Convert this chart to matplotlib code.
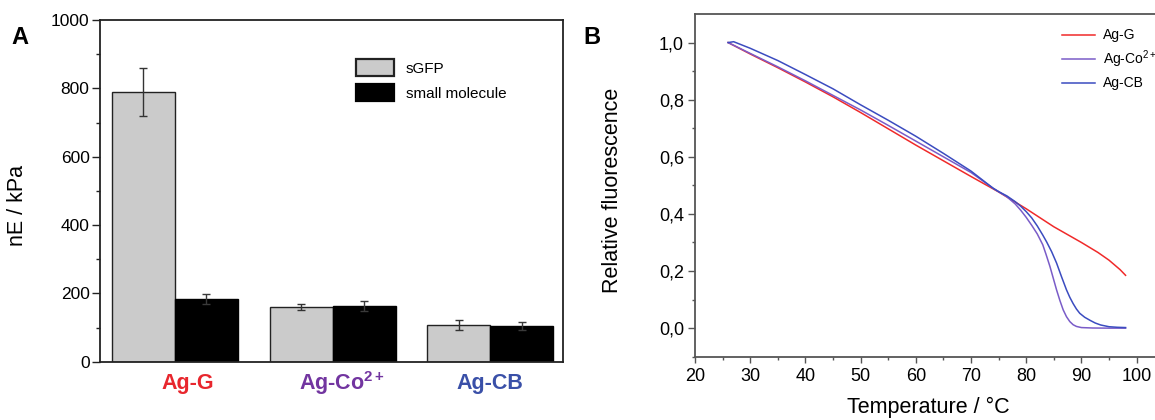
import matplotlib
matplotlib.use("Agg")
import matplotlib.pyplot as plt
import numpy as np
from matplotlib.ticker import MultipleLocator, FixedLocator

plt.rcParams['font.family'] = ['Liberation Sans', 'DejaVu Sans']
plt.rcParams['mathtext.fontset'] = 'custom'
plt.rcParams['mathtext.rm'] = 'Liberation Sans'
plt.rcParams['mathtext.bf'] = 'Liberation Sans:bold'

# ---------------- Data: panel A ----------------
groups = ['Ag-G', r'Ag-Co$^{\mathbf{2+}}$', 'Ag-CB']
group_colors = ['#e8262d', '#7235a0', '#3a50a8']
sgfp = [790, 160, 108]
sgfp_err = [70, 8, 14]
small_mol = [184, 163, 105]
small_mol_err = [14, 15, 12]
series_labels = ['sGFP', 'small molecule']

# ---------------- Data: panel B ----------------
temp_g = [26, 30, 35, 40, 45, 50, 55, 60, 65, 70, 75, 80, 85, 90, 93, 95, 97, 98]
fluo_g = [1.0, 0.96, 0.912, 0.862, 0.81, 0.755, 0.698, 0.641, 0.586, 0.531,
          0.477, 0.418, 0.355, 0.300, 0.265, 0.238, 0.205, 0.185]

temp_co = [26, 30, 35, 40, 45, 50, 55, 60, 65, 70, 74, 75, 76.5, 78, 79, 80, 81,
           82, 83, 83.6, 84.3, 84.9, 85.5, 86.1, 86.7, 87.3, 87.9, 88.5, 89.1,
           90, 92, 95, 98]
fluo_co = [1.0, 0.962, 0.915, 0.866, 0.815, 0.764, 0.71, 0.655, 0.6, 0.545,
           0.49, 0.478, 0.46, 0.435, 0.413, 0.388, 0.36, 0.33, 0.292, 0.258,
           0.216, 0.175, 0.134, 0.097, 0.064, 0.04, 0.023, 0.012, 0.006,
           0.002, 0.0005, 0.0, 0.0]

temp_cb = [26, 27, 30, 35, 40, 45, 50, 55, 60, 62, 65, 70, 74, 75, 76.5, 78, 79,
           80, 81, 82, 83, 83.7, 84.6, 85.5, 86.4, 87.3, 87.9, 88.5, 89.1,
           89.7, 90.6, 91.6, 92.5, 93.5, 95, 96.5, 98]
fluo_cb = [1.0, 1.003, 0.98, 0.937, 0.888, 0.838, 0.782, 0.728, 0.672, 0.648,
           0.612, 0.55, 0.49, 0.478, 0.463, 0.443, 0.427, 0.408, 0.386, 0.358,
           0.326, 0.302, 0.268, 0.228, 0.18, 0.134, 0.108, 0.086, 0.067,
           0.052, 0.038, 0.027, 0.018, 0.011, 0.005, 0.003, 0.002]

line_labels = ['Ag-G', r'Ag-Co$^{2+}$', 'Ag-CB']
line_colors = ['#f02a2a', '#7a5cc8', '#3b4cc0']

W, H = 1155, 420
fig = plt.figure(figsize=(W / 100, H / 100), dpi=100)

# ---------------- Panel A ----------------
axA = fig.add_axes([100 / W, 1 - 361.7 / H, 463.3 / W, 341.7 / H])
x = np.arange(len(groups))
bw = 0.4
axA.bar(x - bw / 2, sgfp, width=bw, color='#cbcbcb', edgecolor='#222222',
        linewidth=1.0, label=series_labels[0], zorder=2)
axA.bar(x + bw / 2, small_mol, width=bw, color='#000000', edgecolor='#000000',
        linewidth=1.0, label=series_labels[1], zorder=2)
axA.errorbar(x - bw / 2, sgfp, yerr=sgfp_err, fmt='none', ecolor='#333333',
             elinewidth=1.0, capsize=2.6, capthick=1.0, zorder=3)
axA.errorbar(x + bw / 2, small_mol, yerr=small_mol_err, fmt='none', ecolor='#3a3a3a',
             elinewidth=1.0, capsize=2.6, capthick=1.0, zorder=3)
axA.set_xlim(-0.476, 2.465)
axA.set_ylim(0, 1000)
axA.yaxis.set_major_locator(MultipleLocator(200))
axA.yaxis.set_minor_locator(MultipleLocator(100))
axA.tick_params(axis='y', which='major', direction='out', length=5.5, width=1.0,
                labelsize=12.5, pad=2, color='#222222')
axA.tick_params(axis='y', which='minor', direction='out', length=2.8, width=1.0,
                color='#222222')
axA.set_xticks([])
label_shift = [0.08, 0.06, 0.0]
for i, (g, c) in enumerate(zip(groups, group_colors)):
    axA.text(i + label_shift[i], -0.063, g, transform=axA.get_xaxis_transform(),
             ha='center', va='center', fontsize=15.5, fontweight='bold', color=c)
for s in axA.spines.values():
    s.set_linewidth(1.3)
    s.set_color('#222222')
axA.set_ylabel('nE / kPa', fontsize=15.5)
axA.yaxis.set_label_coords(-0.155, 0.456)
legA = axA.legend(loc='upper left', bbox_to_anchor=(0.553, 0.885), frameon=False,
                  fontsize=11, handlelength=2.5, handleheight=1.3,
                  labelspacing=0.55, handletextpad=0.75, borderpad=0,
                  borderaxespad=0)
for p in legA.get_patches():
    p.set_linewidth(1.6)

# ---------------- Panel B ----------------
axB = fig.add_axes([695 / W, 1 - 356.7 / H, 469.2 / W, 342.7 / H])
for tx, fy, lab, col in zip([temp_g, temp_co, temp_cb], [fluo_g, fluo_co, fluo_cb],
                            line_labels, line_colors):
    axB.plot(tx, fy, color=col, linewidth=1.1, label=lab)
axB.set_xlim(20, 105)
axB.set_ylim(-0.1, 1.1)
axB.xaxis.set_major_locator(FixedLocator([20, 30, 40, 50, 60, 70, 80, 90, 100]))
axB.xaxis.set_minor_locator(FixedLocator([25, 35, 45, 55, 65, 75, 85, 95]))
axB.yaxis.set_major_locator(FixedLocator([0.0, 0.2, 0.4, 0.6, 0.8, 1.0]))
axB.yaxis.set_minor_locator(FixedLocator([-0.1, 0.1, 0.3, 0.5, 0.7, 0.9]))
axB.yaxis.set_major_formatter(plt.FuncFormatter(lambda v, p: f"{v:.1f}".replace('.', ',')))
axB.tick_params(which='major', direction='out', length=4.5, width=1.0,
                labelsize=13, color='#555555')
axB.tick_params(which='minor', direction='out', length=2.5, width=1.0, color='#555555')
axB.tick_params(axis='y', which='major', length=5.0, pad=3)
for s in axB.spines.values():
    s.set_linewidth(1.3)
    s.set_color('#555555')
axB.set_ylabel('Relative fluorescence', fontsize=15.5)
axB.yaxis.set_label_coords(-0.153, 0.486)
axB.set_xlabel('Temperature / °C', fontsize=15.5)
axB.xaxis.set_label_coords(0.497, -0.118)
legB = axB.legend(loc='upper left', bbox_to_anchor=(0.7815, 0.958), frameon=False,
                  fontsize=10, handlelength=2.4, handletextpad=0.6,
                  labelspacing=0.45, borderpad=0, borderaxespad=0)

# Panel letters
fig.text(11 / W, 1 - 38 / H, 'A', fontsize=17, fontweight='bold',
         ha='left', va='center')
fig.text(583 / W, 1 - 37 / H, 'B', fontsize=17, fontweight='bold',
         ha='left', va='center')

fig.savefig('out.png', dpi=100)
